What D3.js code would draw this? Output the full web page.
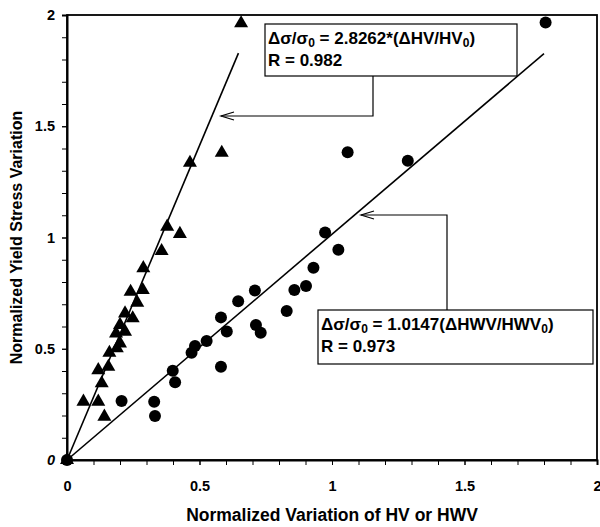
<!DOCTYPE html>
<html>
<head>
<meta charset="utf-8">
<script src="https://d3js.org/d3.v7.min.js"></script>
<style>
  body { margin: 0; background: #fff; }
  svg text { font-family: 'Liberation Sans', Arial, sans-serif; font-weight: bold; fill: #000; }
  .axis path, .axis line { stroke: #000; }
  .axis text { font-size: 14.5px; }
</style>
</head>
<body>
<div id="chart"></div>
<script>
// HV data (triangles)
var hvX = [0, 0.062, 0.118, 0.141, 0.118, 0.131, 0.156, 0.160, 0.188, 0.200, 0.185, 0.200, 0.219, 0.219,
           0.248, 0.265, 0.240, 0.286, 0.288, 0.357, 0.378, 0.426, 0.464, 0.584, 0.657];
var hvY = [0, 0.262, 0.262, 0.195, 0.404, 0.345, 0.419, 0.482, 0.502, 0.524, 0.569, 0.607, 0.577, 0.659,
           0.637, 0.707, 0.756, 0.764, 0.862, 0.939, 1.049, 1.016, 1.336, 1.381, 1.963];
// HWV data (circles)
var hwvX = [0, 0.206, 0.329, 0.332, 0.399, 0.408, 0.470, 0.483, 0.527, 0.581, 0.603, 0.581, 0.646, 0.709,
            0.713, 0.731, 0.829, 0.858, 0.902, 0.930, 0.974, 1.024, 1.059, 1.286, 1.806];
var hwvY = [0, 0.265, 0.262, 0.198, 0.401, 0.349, 0.482, 0.512, 0.535, 0.641, 0.577, 0.419, 0.713, 0.762,
            0.607, 0.572, 0.670, 0.764, 0.782, 0.864, 1.022, 0.945, 1.383, 1.345, 1.966];
// fit lines
var hvSlope = 2.8262, hvFitEnd = 0.647;
var hwvSlope = 1.0147, hwvFitEnd = 1.80;

var majorTicks = [0, 0.5, 1, 1.5, 2];
var minorTicks = d3.range(0, 2.01, 0.1);

var width = 600, height = 527;
var margin = {left: 67, right: 3, top: 15, bottom: 67};

var svg = d3.select('#chart').append('svg')
    .attr('width', width).attr('height', height);

var x = d3.scaleLinear().domain([0, 2]).range([margin.left, width - margin.right]);
var y = d3.scaleLinear().domain([0, 2]).range([height - margin.bottom, margin.top]);

// frame
svg.append('rect')
    .attr('x', x(0)).attr('y', y(2))
    .attr('width', x(2) - x(0)).attr('height', y(0) - y(2))
    .style('fill', 'none').style('stroke', '#000').style('stroke-width', 1.8);

// minor ticks
svg.append('g').attr('class', 'axis')
    .attr('transform', 'translate(0,' + y(0) + ')')
    .call(d3.axisBottom(x).tickValues(minorTicks).tickSize(5).tickFormat(''))
    .select('.domain').remove();
svg.append('g').attr('class', 'axis')
    .attr('transform', 'translate(' + x(0) + ',0)')
    .call(d3.axisLeft(y).tickValues(minorTicks).tickSize(5).tickFormat(''))
    .select('.domain').remove();

// major axes
var xAxis = svg.append('g').attr('class', 'axis')
    .attr('transform', 'translate(0,' + y(0) + ')')
    .call(d3.axisBottom(x).tickValues(majorTicks).tickSize(5).tickPadding(16).tickFormat(d3.format('')));
xAxis.select('.domain').style('stroke-width', 2);

var yAxis = svg.append('g').attr('class', 'axis')
    .attr('transform', 'translate(' + x(0) + ',0)')
    .call(d3.axisLeft(y).tickValues(majorTicks).tickSize(5).tickPadding(7).tickFormat(d3.format('')));
yAxis.select('.domain').style('stroke-width', 2);
yAxis.selectAll('.tick text').filter(function(d) { return d === 0; }).style('font-style', 'italic');

// axis titles
svg.append('text')
    .attr('x', (x(0) + x(2)) / 2).attr('y', 521)
    .attr('text-anchor', 'middle')
    .style('font-size', '17.5px')
    .text('Normalized Variation of HV or HWV');

svg.append('text')
    .attr('transform', 'translate(22,' + (y(0) + y(2)) / 2 + ') rotate(-90)')
    .attr('text-anchor', 'middle')
    .style('font-size', '16px')
    .text('Normalized Yield Stress Variation');

// fit lines
svg.append('line')
    .attr('x1', x(0)).attr('y1', y(0))
    .attr('x2', x(hvFitEnd)).attr('y2', y(hvSlope * hvFitEnd))
    .style('stroke', '#000').style('stroke-width', 1.6);
svg.append('line')
    .attr('x1', x(0)).attr('y1', y(0))
    .attr('x2', x(hwvFitEnd)).attr('y2', y(hwvSlope * hwvFitEnd))
    .style('stroke', '#000').style('stroke-width', 1.6);

// points
svg.append('g').selectAll('path')
    .data(hvX.map(function(d, i) { return [d, hvY[i]]; }))
    .join('path')
    .attr('transform', function(d) { return 'translate(' + x(d[0]) + ',' + y(d[1]) + ')'; })
    .attr('d', d3.symbol().type(d3.symbolTriangle).size(85))
    .style('fill', '#000');

svg.append('g').selectAll('circle')
    .data(hwvX.map(function(d, i) { return [d, hwvY[i]]; }))
    .join('circle')
    .attr('cx', function(d) { return x(d[0]); })
    .attr('cy', function(d) { return y(d[1]); })
    .attr('r', 6)
    .style('fill', '#000');

// annotation boxes
function noteBox(bx, by, bw, bh, coef, sep, ratio, r) {
    svg.append('rect')
        .attr('x', bx).attr('y', by).attr('width', bw).attr('height', bh)
        .style('fill', '#fff').style('stroke', '#000').style('stroke-width', 1.2);
    var t = svg.append('text').attr('x', bx + 3).attr('y', by + 20).style('font-size', '17px');
    t.append('tspan').text('\u0394\u03c3/\u03c3');
    t.append('tspan').attr('dy', 3).style('font-size', '12px').text('0');
    t.append('tspan').attr('dy', -3).text(' = ' + coef + sep + '(\u0394' + ratio + '/' + ratio);
    t.append('tspan').attr('dy', 3).style('font-size', '12px').text('0');
    t.append('tspan').attr('dy', -3).text(')');
    svg.append('text').attr('x', bx + 3).attr('y', by + 42).style('font-size', '17px').text('R = ' + r);
}

function arrow(points) {
    svg.append('path')
        .attr('d', d3.line()(points))
        .style('fill', 'none').style('stroke', '#000').style('stroke-width', 1.2);
    var tip = points[points.length - 1];
    svg.append('path')
        .attr('d', d3.line()([[tip[0] + 13, tip[1] - 4], tip, [tip[0] + 13, tip[1] + 4]]))
        .style('fill', 'none').style('stroke', '#000').style('stroke-width', 1.2);
}

arrow([[373, 76], [373, 116], [221, 116]]);
arrow([[447, 310], [447, 215], [361, 215]]);

noteBox(265, 24, 252, 52, '2.8262', '*', 'HV', '0.982');
noteBox(318, 310, 275, 54, '1.0147', '', 'HWV', '0.973');
</script>
</body>
</html>
